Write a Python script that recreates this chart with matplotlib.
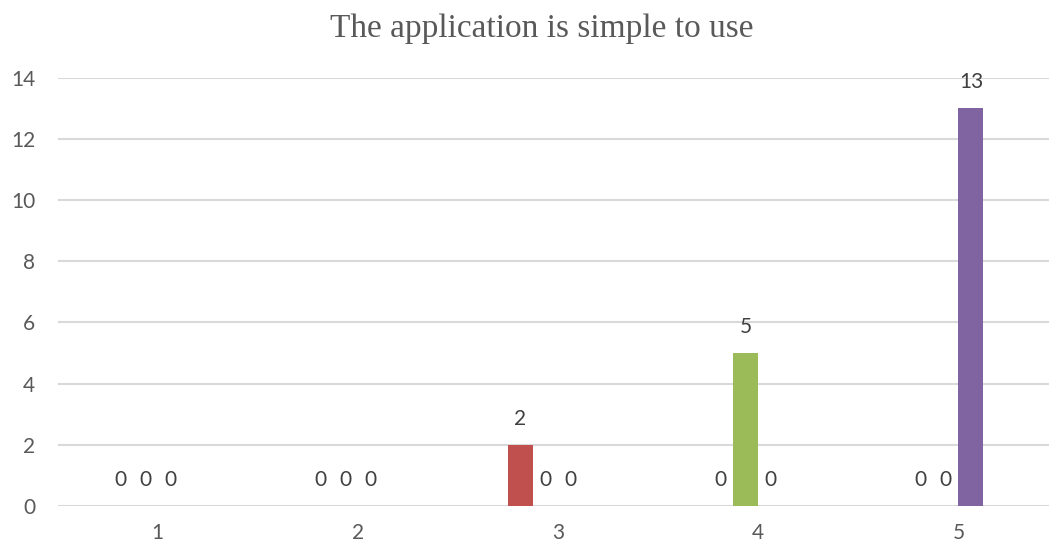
import matplotlib
matplotlib.use("Agg")
import matplotlib.pyplot as plt
import numpy as np

categories = ["1", "2", "3", "4", "5"]
series_a = [0, 0, 2, 0, 0]
series_b = [0, 0, 0, 5, 0]
series_c = [0, 0, 0, 0, 13]
series_d = [np.nan, np.nan, np.nan, np.nan, np.nan]
y_ticks = [0, 2, 4, 6, 8, 10, 12, 14]
title = "The application is simple to use"

colors = ["#C0504D", "#9BBB59", "#8064A2", "#4F81BD"]
text_color = "#595959"

W, H = 1049, 546
fig = plt.figure(figsize=(W / 100, H / 100), dpi=100)
ax = fig.add_axes([57.5 / W, 40 / H, 1001 / W, 428.5 / H])

x = np.arange(len(categories)) + 1
bw = 0.125
all_series = [series_a, series_b, series_c, series_d]
offsets = [-1.5 * bw, -0.5 * bw, 0.5 * bw, 1.5 * bw]
for s, off, col in zip(all_series, offsets, colors):
    bars = ax.bar(x + off, s, width=bw, color=col, zorder=3)
    for xi, v in zip(x + off, s):
        if np.isnan(v):
            continue
        ax.annotate(f"{int(v)}", xy=(xi, v), xytext=(0, 26), textcoords="offset pixels",
                    ha="center", va="center", fontsize=15, color="#404040", family="Lato")

ax.set_xlim(0.5, 5.5)
ax.set_ylim(0, 14)
ax.set_yticks(y_ticks)
ax.set_xticks(x)
ax.set_xticklabels(categories)
for sp in ax.spines.values():
    sp.set_visible(False)
ax.grid(axis="y", color="#D9D9D9", linewidth=1.5, zorder=0)
ax.tick_params(axis="both", length=0, labelsize=15, labelcolor=text_color)
ax.tick_params(axis="y", pad=16)
ax.tick_params(axis="x", pad=12)
for lab in ax.get_xticklabels() + ax.get_yticklabels():
    lab.set_family("Lato")

fig.text(542 / W, 1 - 37 / H, title, ha="center", va="baseline",
         fontsize=24, color=text_color, family="Liberation Serif")

fig.savefig("out.png", dpi=100)
